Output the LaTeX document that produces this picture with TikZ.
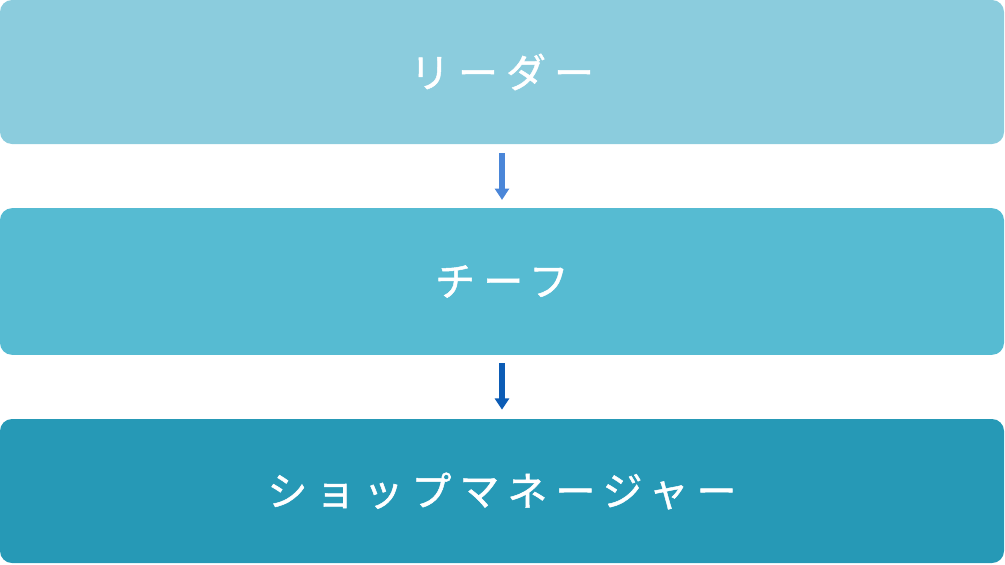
\documentclass[tikz,border=0pt]{standalone}
\usepackage{fontspec}
\usetikzlibrary{arrows.meta}
\newfontfamily\jpfont[LetterSpace=20,FakeBold=1.2]{Noto Sans CJK JP}
\definecolor{leaderblue}{RGB}{139,204,221}
\definecolor{chiefblue}{RGB}{86,187,210}
\definecolor{shopblue}{RGB}{38,153,182}
\definecolor{arrowlight}{RGB}{74,134,216}
\definecolor{arrowdark}{RGB}{12,92,181}
\tikzset{
  rankbox/.style={rectangle, rounded corners=9pt, inner sep=0pt, minimum width=753pt, minimum height=108pt, text=white, font=\jpfont\fontsize{30}{33}\selectfont},
  downarrow/.style={line width=4.5pt, -{Triangle[width=10.5pt,length=8.5pt]}}
}
\begin{document}
\begin{tikzpicture}[x=0.75pt,y=0.75pt,yscale=-1,xscale=1]
\useasboundingbox (0,0) rectangle (1005,564);
\node [rankbox, fill=leaderblue] (leader) at (502,72) {リーダー};
\node [rankbox, fill=chiefblue, minimum height=110pt] (chief) at (502,281.5) {チーフ};
\node [rankbox, fill=shopblue] (shop) at (502,491) {ショップマネージャー};
\draw [downarrow, color=arrowlight, shorten <=6.75pt, shorten >=6pt] (leader) -- (chief);
\draw [downarrow, color=arrowdark, shorten <=6pt, shorten >=6.75pt] (chief) -- (shop);
\end{tikzpicture}
\end{document}
